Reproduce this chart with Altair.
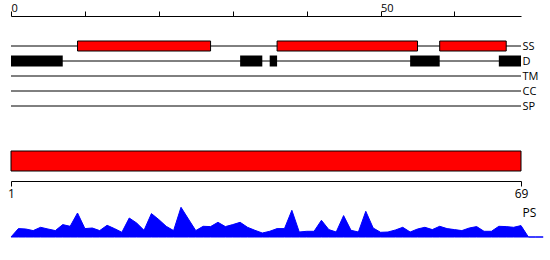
import altair as alt
import pandas as pd

# ---------------- data ----------------
tracks = ["SS", "D", "TM", "CC", "SP"]
seq_len = 69
seq_first = 1
top_ticks = [0, 10, 20, 30, 40, 50, 60]
top_labelled = [0, 50]

ss_start = [9, 36, 58]
ss_end = [27, 55, 67]
d_start = [0, 31, 35, 54, 66]
d_end = [7, 34, 36, 58, 69]

area_label = "PS"
ps_values = [
    0, 8.4, 8.0, 6.4, 9.7, 8.0, 6.4, 12.4, 10.7, 24.0,
    8.4, 9.0, 6.4, 11.7, 8.4, 4.7, 19.0, 14.0, 6.7, 23.4,
    17.4, 10.7, 6.4, 29.7, 18.0, 6.4, 10.7, 10.4, 14.7, 10.4,
    12.4, 14.7, 9.7, 6.7, 4.0, 5.7, 8.4, 8.4, 26.7, 5.0,
    5.7, 5.7, 16.7, 7.4, 5.0, 21.4, 6.7, 5.0, 25.7, 9.0,
    4.7, 5.0, 7.0, 9.7, 5.0, 8.0, 9.7, 7.4, 10.7, 8.4,
    7.4, 6.4, 9.0, 10.4, 5.7, 5.7, 10.7, 10.4, 9.7, 11.4,
    0, 0, 0,
]

# ---------------- tables ----------------
track_df = pd.DataFrame({"track": tracks, "start": [0] * len(tracks), "end": [seq_len] * len(tracks)})
ss_df = pd.DataFrame({"track": ["SS"] * len(ss_start), "start": ss_start, "end": ss_end})
d_df = pd.DataFrame({"track": ["D"] * len(d_start), "start": d_start, "end": d_end})
seq_df = pd.DataFrame({"start": [0], "end": [seq_len]})
ps_df = pd.DataFrame({"pos": list(range(len(ps_values))), "value": ps_values})

W = 510
FONT = "Open Sans"
x_scale = alt.Scale(domain=[0, seq_len], nice=False, zero=False)

labelled = ",".join(str(v) for v in top_labelled)
top_axis = alt.Axis(
    orient="top", values=top_ticks, offset=15,
    labelExpr=f"indexof([{labelled}], datum.value) >= 0 ? datum.label : ''",
    tickSize=5, labelPadding=0, labelAlign="left", labelBaseline="alphabetic",
    labelFlush=False, title=None, grid=False, labelFontSize=11,
    labelColor="black", domainColor="black", tickColor="black", labelFont=FONT,
)
x_top = alt.X("start:Q", scale=x_scale, axis=top_axis)
y_tracks = alt.Y(
    "track:N", sort=tracks,
    scale=alt.Scale(type="point", padding=1, domain=tracks),
    axis=alt.Axis(orient="right", title=None, domain=False, ticks=False,
                  labelPadding=1, labelFontSize=11, labelColor="black",
                  grid=False, labelFont=FONT),
)

rules = alt.Chart(track_df).mark_rule(color="black", strokeWidth=1).encode(
    x=x_top, x2="end:Q", y=y_tracks)
ss_bars = alt.Chart(ss_df).mark_bar(size=10, color="#ff0000", stroke="black", strokeWidth=1).encode(
    x=x_top, x2="end:Q", y=y_tracks)
d_bars = alt.Chart(d_df).mark_bar(size=11, color="black").encode(
    x=x_top, x2="end:Q", y=y_tracks)
panel_tracks = alt.layer(rules, ss_bars, d_bars).properties(width=W, height=90)

panel_seq = alt.Chart(seq_df).mark_rect(color="#ff0000", stroke="black", strokeWidth=1).encode(
    x=alt.X("start:Q", scale=x_scale, axis=alt.Axis(
        orient="bottom", values=[0, seq_len],
        labelExpr=f"datum.value == 0 ? '{seq_first}' : datum.label",
        offset=10, tickSize=5, labelPadding=2, labelFontSize=12, labelFlush=False,
        title=None, grid=False, labelColor="black", domainColor="black",
        tickColor="black", labelFont=FONT)),
    x2="end:Q",
).properties(width=W, height=20)

panel_ps = alt.Chart(ps_df).mark_area(color="#0000ff", stroke="#0000ff", strokeWidth=1, clip=False).encode(
    x=alt.X("pos:Q", scale=x_scale, axis=None),
    y=alt.Y("value:Q", scale=alt.Scale(domain=[0, 36], nice=False),
            axis=alt.Axis(orient="right", values=[25], labelExpr=f"'{area_label}'",
                          ticks=False, domain=False, grid=False, title=None,
                          labelPadding=1, labelFontSize=12, labelColor="black",
                          labelFont=FONT)),
).properties(width=W, height=36)

chart = alt.vconcat(panel_tracks, panel_seq, panel_ps, spacing=30, bounds="flush").properties(
    padding={"left": 7, "top": 2, "right": 0, "bottom": 0}
).configure_view(stroke=None)

chart.save("out.html", embed_options={"renderer": "svg", "actions": False})
